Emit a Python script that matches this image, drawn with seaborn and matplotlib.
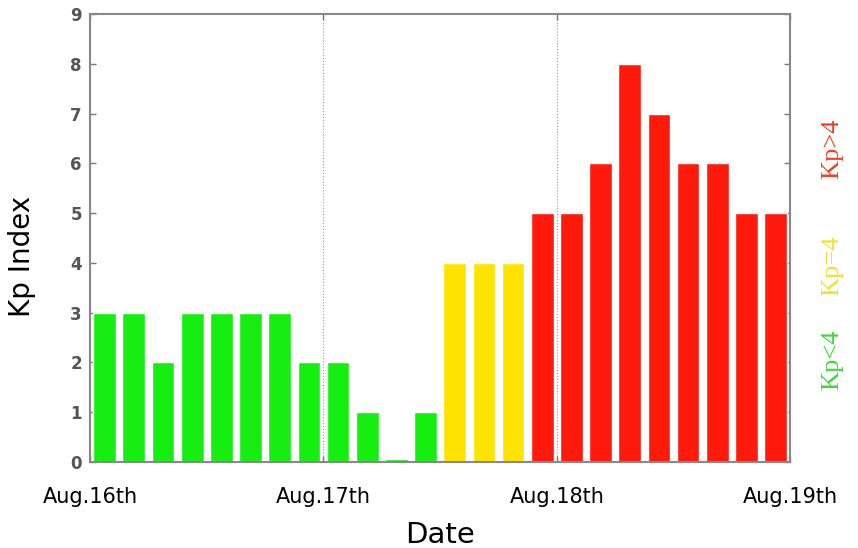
import matplotlib
matplotlib.use("Agg")
import matplotlib.pyplot as plt
import seaborn as sns
import pandas as pd

# 3-hour Kp values, Aug.16th - Aug.18th
kp_values = [3, 3, 2, 3, 3, 3, 3, 2,
             2, 1, 0.05, 1, 4, 4, 4, 5,
             5, 6, 8, 7, 6, 6, 5, 5]
levels = ["Kp<4"] * 12 + ["Kp=4"] * 3 + ["Kp>4"] * 9
day_labels = ["Aug.16th", "Aug.17th", "Aug.18th", "Aug.19th"]

level_colors = {"Kp<4": "#16ee12", "Kp=4": "#ffe300", "Kp>4": "#ff1a0c"}
text_colors = {"Kp<4": "#3fd83a", "Kp=4": "#f2e22a", "Kp>4": "#f0401e"}
text_y = {"Kp<4": 2.05, "Kp=4": 3.95, "Kp>4": 6.3}

df = pd.DataFrame({"slot": range(len(kp_values)), "Kp": kp_values, "level": levels})

sns.set_style("ticks")
plt.rcParams["font.family"] = ["DejaVu Sans"]
plt.rcParams["text.color"] = "black"
plt.rcParams["axes.labelcolor"] = "black"

fig = plt.figure(figsize=(8.58, 5.48), dpi=100)
ax = fig.add_axes([0.105, 0.157, 0.816, 0.817])

sns.barplot(data=df, x="slot", y="Kp", hue="level", palette=level_colors,
            dodge=False, width=0.78, legend=False, saturation=1, ax=ax)

ax.set_ylim(0, 9)
ax.set_xlim(-0.5, len(kp_values) - 0.5)
ax.set_xticks([-0.5 + 8 * i for i in range(len(day_labels))])
ax.set_xticklabels(day_labels, fontsize=15, color="black")
ax.set_yticks(range(10))
ax.set_yticklabels([str(v) for v in range(10)], fontsize=12, fontweight="bold", color="#555555")

ax.tick_params(direction="in", top=True, right=True, length=4, color="#777777", width=1)
ax.tick_params(axis="x", pad=18)
ax.tick_params(axis="y", pad=6)
ax.grid(axis="x", color="#999999", linestyle=":", linewidth=0.8)
ax.set_axisbelow(True)
for sp in ax.spines.values():
    sp.set_color("#888888")
    sp.set_linewidth(1.5)

ax.set_xlabel("Date", fontsize=21, labelpad=10)
ax.set_ylabel("Kp Index", fontsize=20)
ax.yaxis.set_label_coords(-0.077, 0.46)

for lev in ["Kp>4", "Kp=4", "Kp<4"]:
    ax.text(1.06, text_y[lev], lev, transform=ax.get_yaxis_transform(),
            rotation=90, ha="center", va="center", fontsize=19,
            color=text_colors[lev], family="Liberation Serif")

fig.savefig("out.png", dpi=100)
